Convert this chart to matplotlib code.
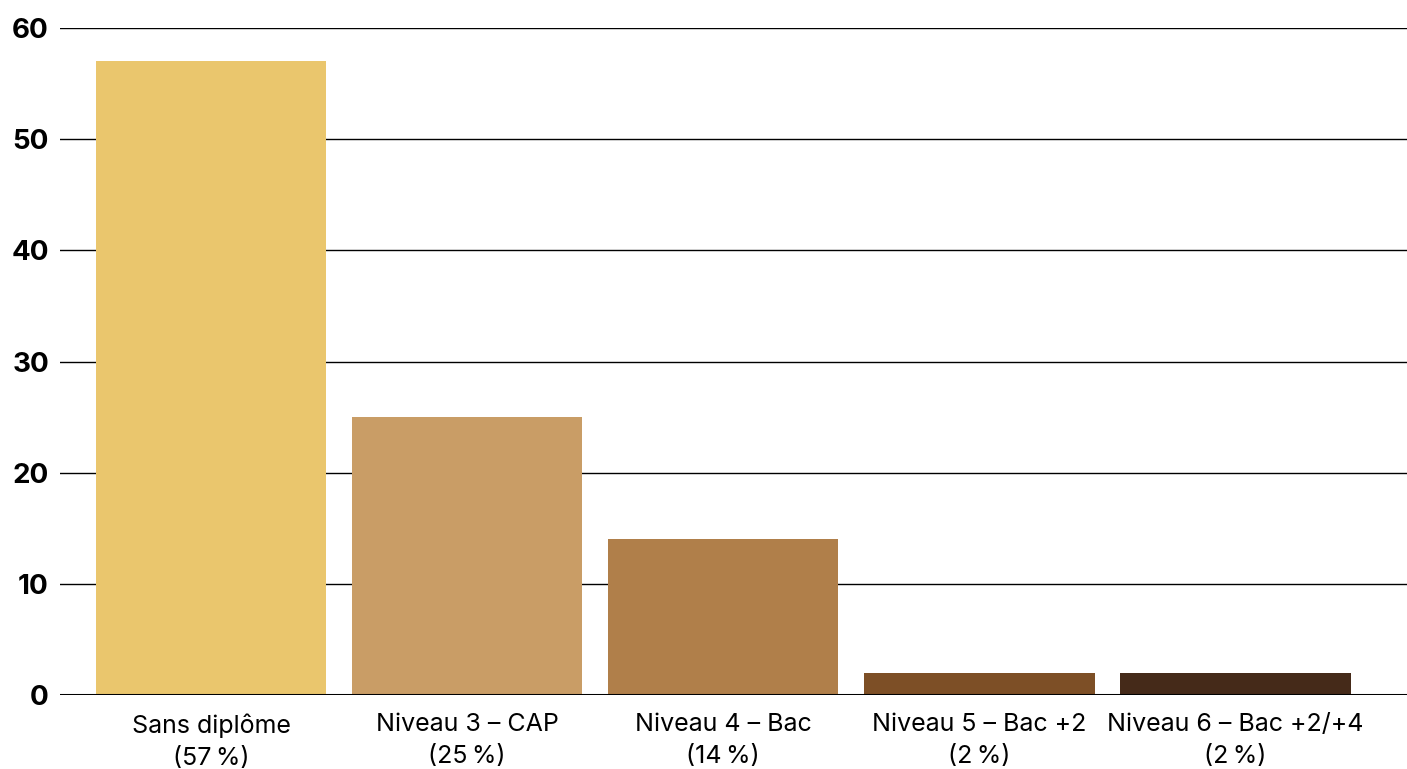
import matplotlib
matplotlib.use('Agg')
import matplotlib.pyplot as plt

categories = ['Sans diplôme\n(57\u202f%)', 'Niveau 3 – CAP\n(25\u202f%)', 'Niveau 4 – Bac\n(14\u202f%)',
              'Niveau 5 – Bac +2\n(2\u202f%)', 'Niveau 6 – Bac +2/+4\n(2\u202f%)']
values = [57, 25, 14, 2, 2]
colors = ['#EAC66D', '#C99D66', '#B07F4A', '#7D4F26', '#452A19']
yticks = [0, 10, 20, 30, 40, 50, 60]

plt.rcParams['font.family'] = ['Inter', 'DejaVu Sans']

fig = plt.figure(figsize=(14.07, 7.69), dpi=100)
ax = fig.add_axes([60/1407, 74/769, 1 - 60/1407, (695-28)/769])

x = list(range(len(values)))
ax.bar(x, values, width=0.9, color=colors, zorder=2)

ax.set_xlim(-0.59, 4.67)
ax.set_ylim(0, 60)
ax.set_yticks(yticks)
ax.set_yticklabels([str(t) for t in yticks], fontsize=20, fontweight='bold')
ax.set_xticks(x)
ax.set_xticklabels(categories, fontsize=18, linespacing=1.5)
ax.tick_params(axis='y', length=0, pad=8)
ax.tick_params(axis='x', length=0, pad=13)

for t in yticks[1:]:
    ax.axhline(t, color='black', linewidth=1.0, zorder=1)
ax.axhline(0, color='black', linewidth=2.2, zorder=3)

for s in ax.spines.values():
    s.set_visible(False)

fig.savefig('out.png', dpi=100)
